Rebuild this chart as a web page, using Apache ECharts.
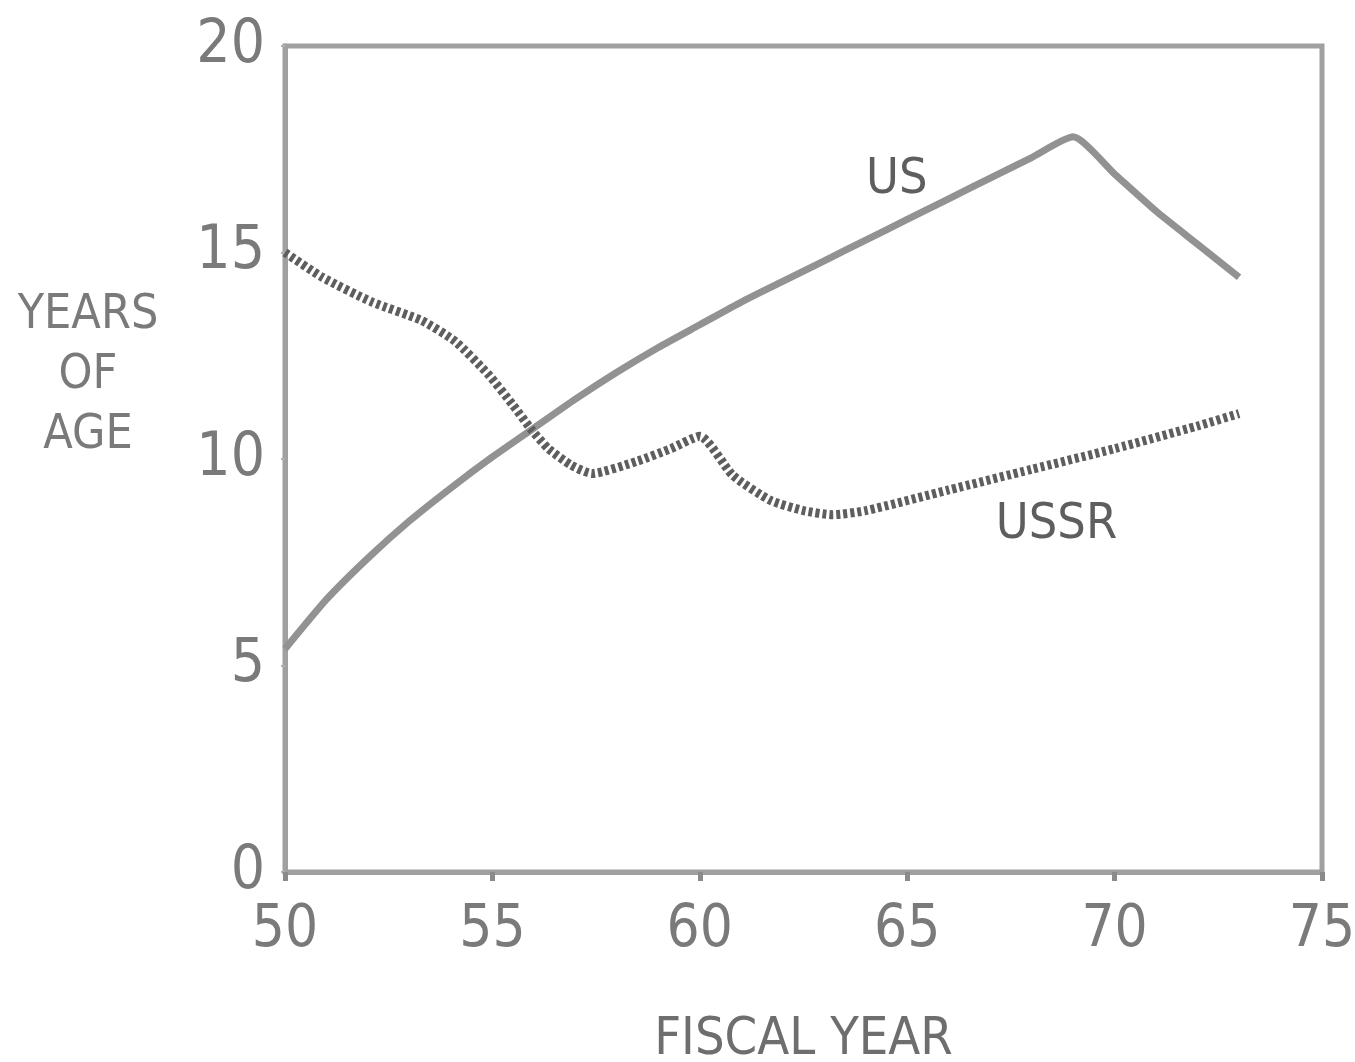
<!DOCTYPE html>
<html>
<head>
<meta charset="utf-8">
<script src="https://cdn.jsdelivr.net/npm/echarts@6/dist/echarts.min.js"></script>
<style>
    html, body { margin: 0; padding: 0; background: #fff; }
    #chart { width: 1355px; height: 1062px; }
</style>
</head>
<body>
<div id="chart"></div>
<script>
// fiscal year (19xx) and average age in years
var usYears = [50, 51, 52, 53, 54, 55, 56, 57, 58, 59, 60, 61, 62, 63, 64, 65, 66, 67, 68, 69, 70, 71, 72, 73]
var usAge = [5.4, 6.6, 7.6, 8.5, 9.3, 10.05, 10.75, 11.45, 12.1, 12.7, 13.25, 13.8, 14.3, 14.8, 15.3, 15.8, 16.3, 16.8, 17.3, 17.8, 16.9, 16.0, 15.2, 14.4]

var ussrYears = [50, 50.9, 52.1, 53.3, 54.1, 54.9, 55.5, 55.95, 56.35, 56.9, 57.4, 58.5, 59.3, 60, 60.8, 61.7, 62.5, 63.2, 64, 66, 68, 70, 72, 73]
var ussrAge = [15.0, 14.4, 13.8, 13.35, 12.85, 12.05, 11.3, 10.7, 10.25, 9.85, 9.65, 9.95, 10.25, 10.55, 9.6, 9.0, 8.75, 8.65, 8.75, 9.25, 9.75, 10.25, 10.8, 11.1]

var xTicks = [50, 55, 60, 65, 70, 75]
var yTicks = [0, 5, 10, 15, 20]

var narrow = '"Liberation Sans Narrow", "DejaVu Sans Condensed", "Roboto Condensed", "DejaVu Sans", sans-serif'
var inkLight = '#929292'
var inkDark = '#5e5e5e'

function pairs(xs, ys) {
    var out = []
    for (var i = 0; i < xs.length; i++) {
        out.push([xs[i], ys[i]])
    }
    return out
}

var chart = echarts.init(document.getElementById('chart'))
chart.setOption({
    animation: false,
    backgroundColor: '#fff',
    grid: {
        left: 285,
        right: 33,
        top: 46,
        bottom: 190,
        outerBoundsMode: 'none',
        containLabel: false,
        show: true,
        borderColor: '#a0a0a0',
        borderWidth: 5,
        backgroundColor: 'transparent'
    },
    xAxis: {
        type: 'value',
        min: xTicks[0],
        max: xTicks[xTicks.length - 1],
        interval: 5,
        name: 'FISCAL YEAR',
        nameLocation: 'middle',
        nameGap: 142,
        nameTextStyle: { fontFamily: narrow, fontSize: 52, color: '#6e6e6e' },
        axisLine: { show: true, lineStyle: { color: '#a0a0a0', width: 5 } },
        axisTick: { show: true, length: 9, lineStyle: { color: '#8a8a8a', width: 5 } },
        axisLabel: { margin: 30, fontFamily: narrow, fontSize: 58, color: '#7a7a7a' },
        splitLine: { show: false }
    },
    yAxis: {
        type: 'value',
        min: yTicks[0],
        max: yTicks[yTicks.length - 1],
        interval: 5,
        axisLine: { show: true, lineStyle: { color: '#a0a0a0', width: 5 } },
        axisTick: { show: true, length: 4, lineStyle: { color: '#b0b0b0', width: 2 } },
        axisLabel: { margin: 20, fontFamily: narrow, fontSize: 60, color: '#7a7a7a' },
        splitLine: { show: false }
    },
    graphic: [{
        type: 'text',
        left: 8,
        top: 286,
        style: {
            text: 'YEARS\nOF\nAGE',
            width: 160,
            align: 'center',
            x: 80,
            textAlign: 'center',
            fontFamily: narrow,
            fontSize: 48,
            lineHeight: 60,
            fill: '#7a7a7a'
        }
    }],
    series: [{
        name: 'US',
        type: 'line',
        data: pairs(usYears, usAge),
        showSymbol: false,
        smooth: 0.2,
        lineStyle: { color: inkLight, width: 7 },
        markPoint: {
            symbol: 'circle',
            symbolSize: 0,
            data: [{ coord: [64.75, 16.75] }],
            label: {
                show: true,
                formatter: 'US',
                fontFamily: narrow,
                fontSize: 50,
                color: '#5e5e5e'
            }
        }
    }, {
        name: 'USSR',
        type: 'line',
        data: pairs(ussrYears, ussrAge),
        showSymbol: false,
        smooth: 0.2,
        lineStyle: { color: inkDark, width: 9, type: [4, 3] },
        markPoint: {
            symbol: 'circle',
            symbolSize: 0,
            data: [{ coord: [68.6, 8.4] }],
            label: {
                show: true,
                formatter: 'USSR',
                fontFamily: narrow,
                fontSize: 50,
                color: '#5e5e5e'
            }
        }
    }]
})
</script>
</body>
</html>
